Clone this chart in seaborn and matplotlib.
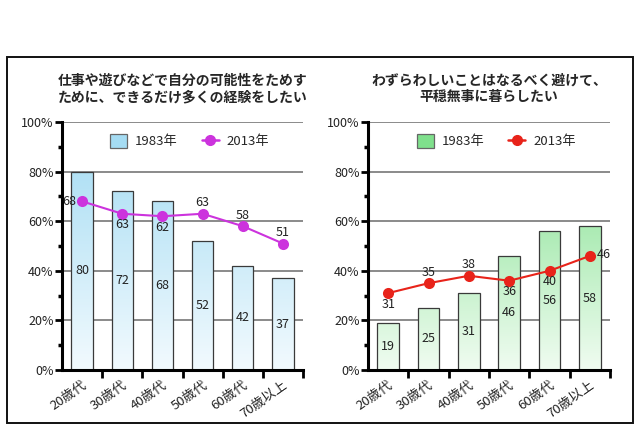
import numpy as np
import matplotlib
matplotlib.use("Agg")
import matplotlib.pyplot as plt
import seaborn as sns
from matplotlib.patches import Patch, Rectangle
from matplotlib.lines import Line2D
from matplotlib.colors import LinearSegmentedColormap
from matplotlib.ticker import MultipleLocator, FixedLocator

# ---------------- data ----------------
categories = ["20歳代", "30歳代", "40歳代", "50歳代", "60歳代", "70歳以上"]
left_title = "仕事や遊びなどで自分の可能性をためす\nために、できるだけ多くの経験をしたい"
right_title = "わずらわしいことはなるべく避けて、\n平穏無事に暮らしたい"
left_1983 = [80, 72, 68, 52, 42, 37]
left_2013 = [68, 63, 62, 63, 58, 51]
right_1983 = [19, 25, 31, 46, 56, 58]
right_2013 = [31, 35, 38, 36, 40, 46]
legend_labels = ["1983年", "2013年"]
y_ticks = [0, 20, 40, 60, 80, 100]

# label placement for line values (direction only)
left_line_pos = ["left", "below", "below", "above", "above", "above"]
right_line_pos = ["below", "above", "above", "below", "below", "right"]

sns.set_theme(style="white")
plt.rcParams["font.family"] = ["Noto Sans CJK JP", "DejaVu Sans"]

fig = plt.figure(figsize=(6.4, 4.28), dpi=100)
W, H = 640, 428

def add_ax(x0, x1, y_top, y_bot):
    return fig.add_axes([x0 / W, 1 - y_bot / H, (x1 - x0) / W, (y_bot - y_top) / H])

axL = add_ax(62, 303, 122, 370)
axR = add_ax(368, 610, 122, 370)

# outer frame
fig.patches.append(Rectangle((7 / W, 1 - 423 / H), (633 - 7) / W, (423 - 57) / H,
                             transform=fig.transFigure, fill=False,
                             edgecolor="#111111", linewidth=1.4, zorder=0))


def draw_panel(ax, bars, line, top_col, bot_col, line_col, title, pos_list):
    ax.set_xlim(-0.5, len(categories) - 0.5)
    ax.set_ylim(0, 100)
    for t in [20, 40, 60, 80, 100]:
        ax.axhline(t, color="#8a8a8a", linewidth=1.4, zorder=0.5)
    sns.barplot(x=categories, y=bars, ax=ax, width=0.53, color=top_col,
                edgecolor="#3a3a3a", linewidth=0.9, zorder=2)
    cmap = LinearSegmentedColormap.from_list("g", [bot_col, top_col])
    grad = np.linspace(0, 1, 256).reshape(-1, 1)
    for p in list(ax.patches):
        x0 = p.get_x()
        w = p.get_width()
        im = ax.imshow(grad, cmap=cmap, origin="lower", aspect="auto",
                       extent=[x0, x0 + w, 0, 95], zorder=2.1)
        im.set_clip_path(p)
        p.set_facecolor("none")
        p.set_zorder(2.2)
    ax.set_xlim(-0.5, len(categories) - 0.5)
    ax.set_ylim(0, 100)
    for i, v in enumerate(bars):
        ax.text(i, v / 2, str(v), ha="center", va="center", fontsize=9,
                color="#222222", zorder=3)
    xs = np.arange(len(categories))
    sns.lineplot(x=xs, y=line, ax=ax, color=line_col, linewidth=1.5,
                 marker="o", markersize=8, markeredgewidth=0, zorder=4)
    offs = {"left": (-4, 0, "right", "center"), "below": (0, -8, "center", "center"),
            "above": (0, 8, "center", "center"), "right": (5, 1, "left", "center")}
    for i, v in enumerate(line):
        dx, dy, ha, va = offs[pos_list[i]]
        ax.annotate(str(v), (i, v), xytext=(dx, dy), textcoords="offset points",
                    ha=ha, va=va, fontsize=9, color="#222222", zorder=5)
    # axes styling
    for s in ["top", "right"]:
        ax.spines[s].set_visible(False)
    for s in ["left", "bottom"]:
        ax.spines[s].set_visible(True)
        ax.spines[s].set_color("#000000")
        ax.spines[s].set_linewidth(2.2)
    ax.set_yticks(y_ticks)
    ax.set_yticklabels([f"{t}%" for t in y_ticks], fontsize=9, color="#222222")
    ax.yaxis.set_minor_locator(MultipleLocator(10))
    ax.tick_params(axis="y", which="major", direction="out", length=5, width=2,
                   color="#000000", left=True, pad=1)
    ax.tick_params(axis="y", which="minor", direction="out", length=3, width=2.5,
                   color="#000000", left=True)
    ax.set_xticks(xs)
    ax.set_xticklabels(categories, rotation=35, ha="right",
                       rotation_mode="anchor", fontsize=9.5, color="#222222")
    ax.xaxis.set_minor_locator(FixedLocator(np.arange(0.5, len(categories), 1.0)))
    ax.tick_params(axis="x", which="major", length=0, pad=6)
    ax.tick_params(axis="x", which="minor", direction="out", length=6, width=2,
                   color="#000000", bottom=True)
    ax.set_xlabel("")
    ax.set_ylabel("")
    ax.grid(False)
    ax.set_facecolor("none")
    handles = [Patch(facecolor=top_col, edgecolor="#666666", linewidth=0.9),
               Line2D([], [], color=line_col, marker="o", markersize=7, linewidth=1.8)]
    ax.legend(handles, legend_labels, loc="upper center", bbox_to_anchor=(0.53, 1.0),
              ncol=2, frameon=False, fontsize=9.5, handlelength=1.3, handleheight=1.3,
              columnspacing=1.8, handletextpad=0.6)
    ax.set_title(title, fontsize=10, fontweight="bold", pad=15, linespacing=1.25)


draw_panel(axL, left_1983, left_2013, "#a5dcf3", "#f2fafe", "#cc33dd",
           left_title, left_line_pos)
draw_panel(axR, right_1983, right_2013, "#7fe08c", "#f0fcf1", "#e8231a",
           right_title, right_line_pos)

fig.savefig("out.png", dpi=100)
